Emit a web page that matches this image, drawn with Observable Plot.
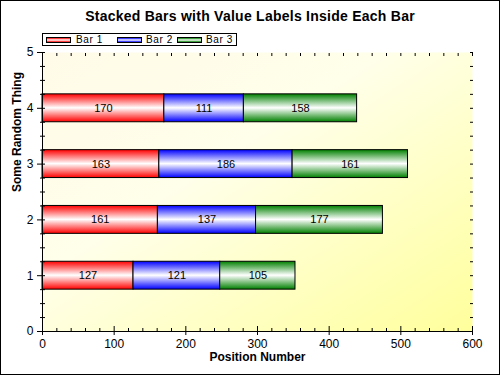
<!DOCTYPE html>
<html>
<head>
<meta charset="utf-8">
<script src="https://cdn.jsdelivr.net/npm/d3@7"></script>
<script src="https://cdn.jsdelivr.net/npm/@observablehq/plot@0.6"></script>
<style>
  html, body { margin: 0; padding: 0; background: #fff; }
  #wrap { position: relative; width: 500px; height: 375px; background: #fff; font-family: "Liberation Sans", Arial, sans-serif; overflow: hidden; }
  #title { position: absolute; left: 0; top: 8px; width: 500px; text-align: center; font-size: 14px; font-weight: bold; letter-spacing: 0.25px; color: #000; }
  #legend { position: absolute; left: 42px; top: 33px; width: 193px; height: 11px; border: 1px solid #000; background: #fff; }
  .sw { position: absolute; top: 3px; width: 23px; height: 4px; border: 1px solid #000; }
  .lab { position: absolute; top: 0px; font-size: 10px; letter-spacing: 0.6px; color: #000; white-space: nowrap; line-height: 11px; }
  #border { position: absolute; left: 0; top: 0; width: 498px; height: 373px; border: 1px solid #000; pointer-events: none; }
  #plot { position: absolute; left: 0; top: 0; }
</style>
</head>
<body>
<svg width="0" height="0" style="position:absolute">
  <defs>
    <linearGradient id="gBar1" x1="0" y1="0" x2="0" y2="1">
      <stop offset="0" stop-color="#ff0000"/><stop offset="0.5" stop-color="#ffffff"/><stop offset="1" stop-color="#ff0000"/>
    </linearGradient>
    <linearGradient id="gBar2" x1="0" y1="0" x2="0" y2="1">
      <stop offset="0" stop-color="#0000ff"/><stop offset="0.5" stop-color="#ffffff"/><stop offset="1" stop-color="#0000ff"/>
    </linearGradient>
    <linearGradient id="gBar3" x1="0" y1="0" x2="0" y2="1">
      <stop offset="0" stop-color="#008000"/><stop offset="0.5" stop-color="#ffffff"/><stop offset="1" stop-color="#008000"/>
    </linearGradient>
    <linearGradient id="gBg" x1="0" y1="0" x2="1" y2="1">
      <stop offset="0" stop-color="#fffbe8"/><stop offset="0.4" stop-color="#ffffea"/><stop offset="1" stop-color="#ffff9c"/>
    </linearGradient>
  </defs>
</svg>
<div id="wrap">
  <div id="plot"></div>
  <div id="title"></div>
  <div id="legend"></div>
  <div id="border"></div>
</div>
<script>
// ---- data ----
const titleText = "Stacked Bars with Value Labels Inside Each Bar";
const xLabel = "Position Number";
const yLabel = "Some Random Thing";
const categories = [1, 2, 3, 4];
const seriesNames = ["Bar 1", "Bar 2", "Bar 3"];
const bar1 = [127, 161, 163, 170];
const bar2 = [121, 137, 186, 111];
const bar3 = [105, 177, 161, 158];
const xTickValues = [0, 100, 200, 300, 400, 500, 600];
const yTickValues = [0, 1, 2, 3, 4, 5];

// ---- styles ----
const gradientIds = {"Bar 1": "url(#gBar1)", "Bar 2": "url(#gBar2)", "Bar 3": "url(#gBar3)"};
const legendCss = {"Bar 1": "#ff0000", "Bar 2": "#0000ff", "Bar 3": "#008000"};
const legendSwatchLeft = [3, 74, 134];
const legendTextLeft = [33, 103, 163];
const barHalf = 0.25;

const seriesValues = [bar1, bar2, bar3];
const rows = [];
categories.forEach((c, i) => {
  seriesNames.forEach((s, j) => rows.push({cat: c, series: s, value: seriesValues[j][i]}));
});

const xAll = d3.range(0, 601, 20);
const xMinor = xAll.filter(v => v % 100 !== 0);
const yAll = d3.range(0, 5.001, 0.25);
const yMinor = yAll.filter(v => v % 1 !== 0);
const blank = () => "";

const chart = Plot.plot({
  width: 500,
  height: 375,
  marginLeft: 42,
  marginRight: 28,
  marginTop: 52,
  marginBottom: 44,
  style: {background: "transparent", fontFamily: "'Liberation Sans', Arial, sans-serif", fontSize: "12px", color: "black"},
  x: {domain: [0, 600]},
  y: {domain: [0, 5]},
  color: {type: "identity"},
  marks: [
    Plot.frame({fill: "url(#gBg)", stroke: "none"}),
    Plot.rect(rows, Plot.stackX({
      x: "value",
      y1: d => d.cat - barHalf,
      y2: d => d.cat + barHalf,
      fill: d => gradientIds[d.series],
      stroke: "black",
      strokeWidth: 1
    })),
    Plot.text(rows, Plot.stackX({x: "value", y: "cat", text: d => String(d.value), fontSize: 11, fill: "black"})),
    Plot.ruleX([0], {stroke: "black"}),
    Plot.ruleY([0], {stroke: "black"}),
    Plot.axisX(xTickValues, {anchor: "bottom", tickSize: 4, tickPadding: 4, fontSize: 12, tickFormat: d3.format("d"), label: null}),
    Plot.axisX(xTickValues, {anchor: "bottom", tickSize: -5, tickFormat: blank, label: null}),
    Plot.axisX(xMinor, {anchor: "bottom", tickSize: -3, tickFormat: blank, label: null}),
    Plot.axisX(xAll, {anchor: "top", tickSize: -3, tickFormat: blank, label: null}),
    Plot.axisY(yTickValues, {anchor: "left", tickSize: 5, tickPadding: 4, fontSize: 12, tickFormat: d3.format("d"), label: null}),
    Plot.axisY(yTickValues, {anchor: "left", tickSize: -3, tickFormat: blank, label: null}),
    Plot.axisY(yMinor, {anchor: "left", tickSize: 2, tickFormat: blank, label: null}),
    Plot.axisY(yMinor, {anchor: "left", tickSize: -3, tickFormat: blank, label: null}),
    Plot.axisY(yAll, {anchor: "right", tickSize: -3, tickFormat: blank, label: null}),
    Plot.text([xLabel], {frameAnchor: "bottom", dy: 29, fontWeight: "bold", fontSize: 12, fill: "black"}),
    Plot.text([yLabel], {frameAnchor: "left", dx: -25, rotate: -90, fontWeight: "bold", fontSize: 12, fill: "black"})
  ]
});
document.getElementById("plot").appendChild(chart);
document.getElementById("title").textContent = titleText;

const legend = document.getElementById("legend");
seriesNames.forEach((s, i) => {
  const sw = document.createElement("div");
  sw.className = "sw";
  sw.style.left = legendSwatchLeft[i] + "px";
  const c = legendCss[s];
  sw.style.background = `linear-gradient(to bottom, ${c}, #ffffff, ${c})`;
  legend.appendChild(sw);
  const lab = document.createElement("div");
  lab.className = "lab";
  lab.style.left = legendTextLeft[i] + "px";
  lab.textContent = s;
  legend.appendChild(lab);
});
</script>
</body>
</html>
